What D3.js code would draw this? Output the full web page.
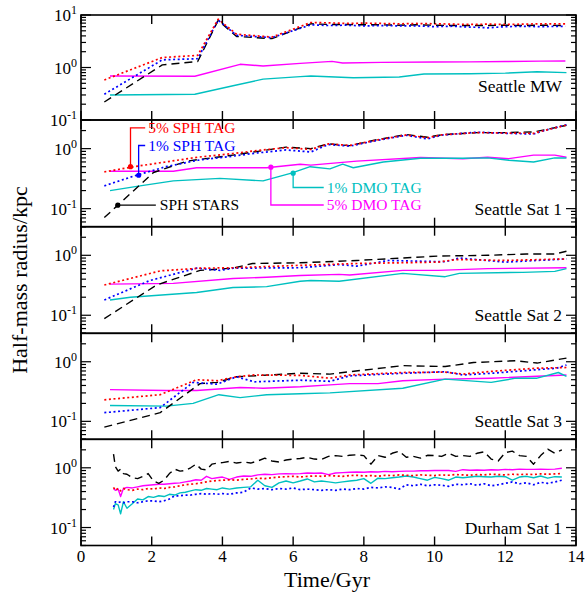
<!DOCTYPE html>
<html><head><meta charset="utf-8">
<script src="https://cdn.jsdelivr.net/npm/d3@7"></script>
<style>body{margin:0;background:#fff}svg{display:block}text{font-family:"Liberation Serif","Times New Roman",serif;fill:#000}</style>
</head><body><svg id="c" width="585" height="592"></svg>
<script>
// ---------- data ----------
const xTicks=[0,2,4,6,8,10,12,14];
const panelNames=["Seattle MW","Seattle Sat 1","Seattle Sat 2","Seattle Sat 3","Durham Sat 1"];
const panelLabelV=[0.45,0.1,0.1,0.1,0.1];

// Seattle MW
const mwSphT=[0.66,2.3,3.3,3.88,4.4,5.4,6.5,7.0,7.5,8.0,8.5,9.0,9.5,10.0,10.5,11.0,11.5,12.0,12.5,13.0,13.7];
const mwRed=[0.58,1.55,1.7,8.3,4.3,3.8,7.2,7.1,6.9,7.0,6.9,6.8,6.9,6.8,6.7,6.6,6.7,6.6,6.7,6.8,6.8];
const mwBlue=[0.31,1.4,1.47,8.0,4.1,3.7,6.5,6.3,6.4,6.2,6.3,6.2,6.2,6.0,6.1,5.9,5.7,6.0,6.1,6.0,6.1];
const mwBlack=[0.22,1.12,1.3,7.9,3.9,3.55,6.8,6.6,6.6,6.5,6.5,6.4,6.5,6.4,6.3,6.3,6.3,6.4,6.3,6.4,6.3];
const mwMagT=[0.82,3.22,4.5,5.15,6.2,7.1,7.4,8.5,10,11,12,13,13.7];
const mwMag=[0.69,0.68,1.15,1.07,1.2,1.31,1.22,1.25,1.27,1.28,1.3,1.32,1.33];
const mwCyanT=[0.82,3.22,4.3,5.15,6.2,6.5,7.7,9.0,9.7,11.0,12.0,12.9,13.73];
const mwCyan=[0.3,0.31,0.45,0.6,0.67,0.69,0.64,0.66,0.75,0.76,0.78,0.83,0.8];

// Seattle Sat 1
const s1SphT=[0.66,1.5,2.4,3.3,4.3,5.0,5.8,6.5,7.0,7.6,8.4,9.2,9.8,10.2,11.2,12.0,12.8,13.1,13.73];
const s1Red=[0.41,0.5,0.6,0.72,0.83,0.93,1.04,0.97,1.2,1.13,1.4,1.69,1.52,1.7,1.85,1.82,1.8,2.0,2.47];
const s1Blue=[0.24,0.35,0.5,0.64,0.75,0.85,0.95,0.88,1.17,1.1,1.38,1.67,1.45,1.68,1.88,1.8,1.75,2.0,2.5];
const s1BlackT=[0.66,2.05,3.0,4.3,5.0,5.8,6.5,7.0,7.6,8.4,9.2,9.8,10.2,11.2,12.0,12.8,13.1,13.73];
const s1Black=[0.071,0.4,0.62,0.78,0.9,1.06,1.0,1.2,1.12,1.42,1.72,1.55,1.7,1.85,1.85,1.9,2.05,2.45];
const s1MagT=[0.82,2.61,3.27,5.25,6.2,6.5,7.8,9.6,10.8,11.5,12.1,12.8,13.4,13.73];
const s1Mag=[0.42,0.42,0.48,0.48,0.55,0.53,0.62,0.71,0.68,0.72,0.68,0.78,0.78,0.72];
const s1CyanT=[0.82,1.67,2.61,3.93,5.15,5.95,6.48,7.04,7.4,7.7,8.55,9.6,10.8,11.5,12.1,12.8,13.4,13.73];
const s1Cyan=[0.2,0.24,0.29,0.32,0.29,0.39,0.5,0.46,0.55,0.48,0.6,0.69,0.69,0.7,0.64,0.6,0.7,0.7];

// Seattle Sat 2
const s2RedT=[0.66,2.24,3.37,4.3,6.2,7.8,10.1,10.6,12.0,13.73];
const s2Red=[0.32,0.55,0.61,0.62,0.68,0.73,0.77,0.85,0.82,0.87];
const s2BlueT=[0.66,1.95,3.27,3.93,4.3,6.2,7.3,7.8,8.7,10.3,10.7,12.0,13.73];
const s2Blue=[0.18,0.38,0.61,0.56,0.61,0.62,0.7,0.66,0.82,0.78,0.9,0.77,0.87];
const s2BlackT=[0.66,2.14,3.37,4.3,4.85,6.2,7.8,10.1,11.5,12.6,13.4,13.73];
const s2Black=[0.088,0.32,0.56,0.61,0.73,0.75,0.82,0.97,1.0,1.05,1.05,1.17];
const s2MagT=[0.82,2.61,4.3,5.25,6.2,7.3,7.6,9.1,10.1,11.5,13.73];
const s2Mag=[0.33,0.34,0.41,0.43,0.46,0.48,0.47,0.56,0.56,0.6,0.62];
const s2CyanT=[0.82,1.4,3.27,4.3,5.25,6.2,6.5,7.3,9.1,10.3,10.7,12.5,13.4,13.73];
const s2Cyan=[0.18,0.2,0.24,0.29,0.3,0.37,0.38,0.37,0.5,0.44,0.5,0.52,0.54,0.6];

// Seattle Sat 3
const s3RedT=[0.66,2.24,3.27,3.85,4.4,4.9,6.2,7.04,7.6,9.1,10.3,10.8,11.6,12.9,13.73];
const s3Red=[0.23,0.28,0.5,0.48,0.56,0.6,0.59,0.53,0.6,0.66,0.67,0.62,0.69,0.78,0.8];
const s3BlueT=[0.66,2.24,3.17,3.85,4.4,4.9,6.2,7.04,7.6,9.1,10.3,10.8,11.6,13.45,13.73];
const s3Blue=[0.14,0.17,0.45,0.42,0.56,0.46,0.49,0.47,0.58,0.64,0.68,0.6,0.64,0.78,0.88];
const s3BlackT=[0.66,2.24,3.37,3.85,4.4,6.2,7.04,7.6,9.1,10.3,11.1,12.3,12.9,13.73];
const s3Black=[0.08,0.14,0.43,0.45,0.56,0.64,0.62,0.68,0.86,0.83,0.97,1.04,0.95,1.15];
const s3MagT=[0.82,2.42,3.27,4.5,5.15,6.2,7.04,7.6,8.4,9.1,10.3,11.6,13.73];
const s3Mag=[0.34,0.33,0.33,0.37,0.36,0.38,0.41,0.43,0.43,0.48,0.51,0.53,0.6];
const s3CyanT=[0.82,2.42,3.17,3.9,4.5,5.25,6.2,7.04,9.1,10.3,11.6,12.3,12.9,13.5,13.73];
const s3Cyan=[0.185,0.18,0.2,0.28,0.25,0.28,0.29,0.3,0.36,0.51,0.45,0.53,0.53,0.66,0.57];

// Durham Sat 1
const dhT=[0.92,0.97,1.05,1.12,1.2,1.3,1.45,1.6,1.75,1.9,2.05,2.2,2.35,2.5,2.65,2.8,2.95,3.1,3.25,3.4,3.55,3.7,3.85,4.0,
 4.2,4.4,4.6,4.8,5.0,5.2,5.4,5.6,5.8,6.0,6.2,6.4,6.6,6.8,7.0,7.2,7.4,7.6,7.8,8.0,8.2,8.4,8.6,8.8,9.0,9.2,9.4,9.6,9.8,10.0,
 10.2,10.4,10.6,10.8,11.0,11.2,11.4,11.6,11.8,12.0,12.2,12.4,12.6,12.8,13.0,13.2,13.4,13.6];
const dhBlack=[1.7,1.05,0.88,0.95,0.8,0.78,0.68,0.66,0.72,0.8,0.6,0.55,0.62,0.8,0.95,0.88,0.9,1.0,1.15,0.95,0.92,1.15,1.2,1.22,
 1.28,1.2,1.25,1.2,1.3,1.45,1.3,1.25,1.35,1.4,1.43,1.5,1.4,1.38,1.55,1.6,1.55,1.62,1.65,1.6,1.15,1.6,1.5,1.75,1.9,1.5,1.55,1.45,1.62,1.6,
 1.55,1.75,1.55,1.6,1.55,1.75,1.85,1.4,1.3,1.8,1.9,1.6,1.55,1.15,1.6,2.05,1.75,2.0];
const dhMag=[0.45,0.42,0.44,0.33,0.45,0.47,0.46,0.48,0.5,0.51,0.52,0.53,0.53,0.54,0.55,0.56,0.58,0.6,0.63,0.62,0.72,0.66,0.68,0.7,
 0.64,0.7,0.73,0.72,0.76,0.78,0.77,0.79,0.8,0.79,0.8,0.82,0.81,0.82,0.77,0.82,0.83,0.84,0.85,0.84,0.86,0.85,0.87,0.86,0.87,0.88,0.88,0.89,0.89,0.9,
 0.9,0.9,0.87,0.93,0.91,0.92,0.91,0.93,0.92,0.94,0.93,0.95,0.94,0.94,0.95,0.94,0.95,0.98];
const dhRed=[0.47,0.42,0.45,0.41,0.45,0.43,0.42,0.44,0.43,0.45,0.44,0.46,0.45,0.47,0.48,0.5,0.52,0.53,0.54,0.56,0.58,0.6,0.61,0.62,
 0.63,0.62,0.64,0.65,0.67,0.66,0.68,0.7,0.71,0.72,0.7,0.72,0.73,0.72,0.74,0.73,0.72,0.74,0.75,0.73,0.74,0.72,0.75,0.74,0.76,0.75,0.74,0.76,0.75,0.74,
 0.76,0.75,0.77,0.76,0.75,0.77,0.76,0.78,0.77,0.76,0.78,0.77,0.78,0.77,0.79,0.78,0.79,0.8];
const dhCyan=[0.2,0.25,0.24,0.17,0.27,0.21,0.25,0.3,0.29,0.33,0.32,0.34,0.33,0.36,0.35,0.38,0.39,0.41,0.43,0.42,0.45,0.44,0.43,0.46,
 0.44,0.46,0.47,0.48,0.62,0.5,0.47,0.56,0.6,0.56,0.6,0.65,0.58,0.6,0.58,0.56,0.58,0.6,0.62,0.66,0.55,0.67,0.66,0.68,0.7,0.73,0.7,0.66,0.62,0.69,
 0.66,0.62,0.7,0.68,0.7,0.72,0.71,0.7,0.72,0.71,0.62,0.7,0.72,0.68,0.73,0.67,0.71,0.7];
const dhBlue=[0.22,0.27,0.26,0.27,0.26,0.27,0.27,0.26,0.27,0.28,0.28,0.27,0.28,0.3,0.34,0.34,0.35,0.35,0.36,0.37,0.36,0.37,0.36,0.37,
 0.36,0.38,0.39,0.46,0.44,0.45,0.43,0.45,0.44,0.46,0.43,0.44,0.43,0.42,0.43,0.42,0.44,0.43,0.45,0.44,0.47,0.46,0.48,0.47,0.44,0.52,0.5,0.53,0.5,0.52,
 0.51,0.49,0.53,0.52,0.54,0.51,0.54,0.5,0.52,0.55,0.58,0.54,0.56,0.52,0.57,0.55,0.58,0.62];

// Sat 1 annotations (marker point on a curve, label anchor) in data units
const annoLabels=["5% SPH TAG","1% SPH TAG","SPH STARS","1% DMO TAG","5% DMO TAG"];
const annoMarkT=[1.4,1.63,1.04,6.0,5.37];
const annoMarkV=[0.5,0.36,0.114,0.39,0.49];
const annoTextT=[1.9,1.9,2.23,6.95,6.95];
const annoTextV=[2.21,1.127,0.114,0.225,0.115];
const annoKey=["red","blue","black","cyan","mag"];

// ---------- styles ----------
const styles={
  mag:{c:"#ff00ff",d:null,w:1.4},
  cyan:{c:"#00c0c0",d:null,w:1.4},
  black:{c:"#000000",d:"8,5",w:1.4},
  blue:{c:"#0000ff",d:"2,2.6",w:1.7},
  red:{c:"#ff0000",d:"2,2.6",w:1.7}
};

const panels=[
 {dom:[0.1,10],top:15,bot:120,labels:[10,1,0.1],series:[["mag",mwMagT,mwMag],["cyan",mwCyanT,mwCyan],["black",mwSphT,mwBlack],["blue",mwSphT,mwBlue],["red",mwSphT,mwRed]]},
 {dom:[0.05,3],top:120,bot:226.7,labels:[1,0.1],series:[["mag",s1MagT,s1Mag],["cyan",s1CyanT,s1Cyan],["black",s1BlackT,s1Black],["blue",s1SphT,s1Blue],["red",s1SphT,s1Red]]},
 {dom:[0.05,3],top:226.7,bot:333.3,labels:[1,0.1],series:[["mag",s2MagT,s2Mag],["cyan",s2CyanT,s2Cyan],["black",s2BlackT,s2Black],["blue",s2BlueT,s2Blue],["red",s2RedT,s2Red]]},
 {dom:[0.05,3],top:333.3,bot:439.3,labels:[1,0.1],series:[["mag",s3MagT,s3Mag],["cyan",s3CyanT,s3Cyan],["black",s3BlackT,s3Black],["blue",s3BlueT,s3Blue],["red",s3RedT,s3Red]]},
 {dom:[0.05,3],top:439.3,bot:545.5,labels:[1,0.1],series:[["mag",dhT,dhMag],["cyan",dhT,dhCyan],["black",dhT,dhBlack],["blue",dhT,dhBlue],["red",dhT,dhRed]]}
];

// ---------- drawing ----------
const svg=d3.select("#c");
const L=81,R=576;
const x=d3.scaleLinear().domain([0,14]).range([L,R]);
const defs=svg.append("defs");

panels.forEach((p,i)=>{
  const y=d3.scaleLog().domain(p.dom).range([p.bot,p.top]);
  p.y=y;
  const g=svg.append("g");
  defs.append("clipPath").attr("id","cp"+i).append("rect")
    .attr("x",L).attr("y",p.top).attr("width",R-L).attr("height",p.bot-p.top);
  const line=d3.line().x(d=>x(d[0])).y(d=>y(d[1]));
  const lg=g.append("g").attr("clip-path","url(#cp"+i+")");
  p.series.forEach(([k,ts,vs])=>{
    const s=styles[k];
    lg.append("path").datum(ts.map((t,j)=>[t,vs[j]]))
      .attr("d",line).attr("fill","none").attr("stroke",s.c)
      .attr("stroke-width",s.w).attr("stroke-dasharray",s.d)
      .attr("stroke-linejoin","round");
  });
  // y ticks
  const ticks=y.ticks(20).filter(v=>v>=p.dom[0]*0.999&&v<=p.dom[1]*1.001);
  ticks.forEach(v=>{
    const major=Math.abs(Math.log10(v)-Math.round(Math.log10(v)))<1e-6;
    const len=major?10:5;
    const yy=y(v);
    g.append("line").attr("x1",L).attr("x2",L+len).attr("y1",yy).attr("y2",yy).attr("stroke","#000").attr("stroke-width",1.2);
    g.append("line").attr("x1",R).attr("x2",R-len).attr("y1",yy).attr("y2",yy).attr("stroke","#000").attr("stroke-width",1.2);
  });
  // x ticks
  xTicks.forEach(t=>{
    g.append("line").attr("x1",x(t)).attr("x2",x(t)).attr("y1",p.top).attr("y2",p.top+9).attr("stroke","#000").attr("stroke-width",1.4);
    g.append("line").attr("x1",x(t)).attr("x2",x(t)).attr("y1",p.bot).attr("y2",p.bot-9).attr("stroke","#000").attr("stroke-width",1.4);
  });
  // y labels
  p.labels.forEach(v=>{
    const e=Math.round(Math.log10(v));
    const tx=svg.append("text").attr("x",77).attr("y",y(v)+6).attr("text-anchor","end").attr("font-size",17);
    tx.append("tspan").text("10");
    tx.append("tspan").attr("dy",-7).attr("font-size",12).text(String(e));
  });
  // frame
  g.append("rect").attr("x",L).attr("y",p.top).attr("width",R-L).attr("height",p.bot-p.top)
    .attr("fill","none").attr("stroke","#000").attr("stroke-width",1.6);
  // panel name
  svg.append("text").attr("x",562).attr("y",y(panelLabelV[i])+6).attr("text-anchor","end").attr("font-size",17.5).text(panelNames[i]);
});

// annotations on Sat 1
const p1=panels[1];
annoLabels.forEach((lab,i)=>{
  const s=styles[annoKey[i]];
  const mx=x(annoMarkT[i]),my=p1.y(annoMarkV[i]);
  const tx=x(annoTextT[i]),ty=p1.y(annoTextV[i]);
  const pts=(Math.abs(my-ty)<0.5)?[[mx,my],[tx-4,ty]]:[[mx,my],[mx,ty],[tx-3,ty]];
  svg.append("path").attr("d",d3.line()(pts)).attr("fill","none").attr("stroke",s.c).attr("stroke-width",1.3);
  svg.append("circle").attr("cx",mx).attr("cy",my).attr("r",2.6).attr("fill",s.c);
  svg.append("text").attr("x",tx).attr("y",ty+5).attr("font-size",15.5).attr("fill",s.c).style("fill",s.c).text(lab);
});

// x tick labels
xTicks.forEach(t=>{
  svg.append("text").attr("x",x(t)).attr("y",562).attr("text-anchor","middle").attr("font-size",17).text(t);
});
svg.append("text").attr("x",327).attr("y",587).attr("text-anchor","middle").attr("font-size",22).text("Time/Gyr");
svg.append("text").attr("transform","translate(27,280) rotate(-90)").attr("text-anchor","middle").attr("font-size",22).text("Half-mass radius/kpc");
</script></body></html>
